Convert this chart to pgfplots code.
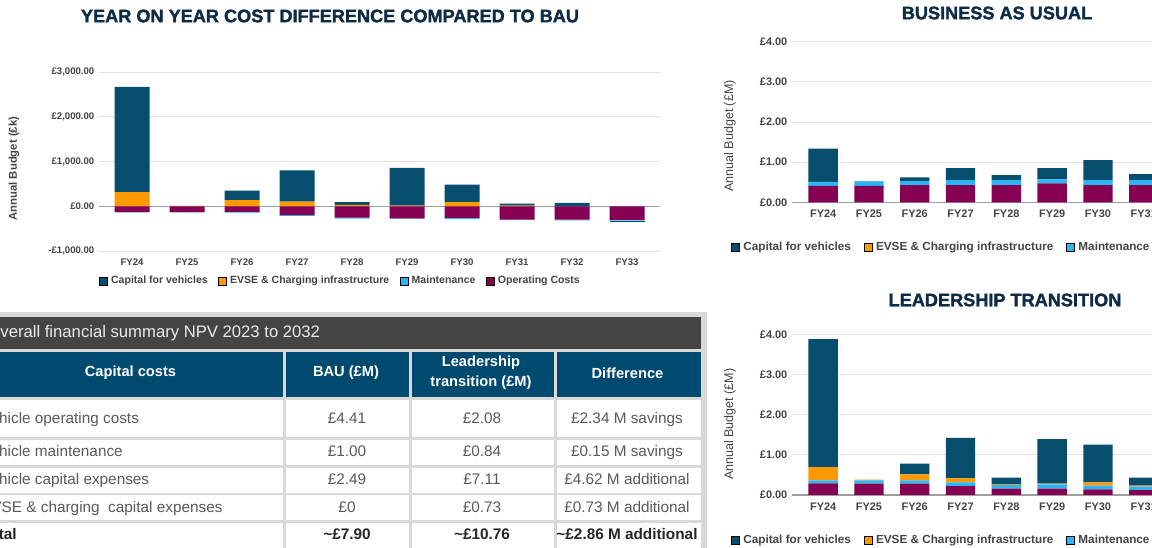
\documentclass[border=0pt]{standalone}
\usepackage{pgfplots}
\pgfplotsset{compat=1.18}
\usepackage{pgfplotstable}
\usepackage{fontspec}
\setmainfont{Liberation Sans}
\newfontfamily\titlefont{Liberation Sans}[BoldFeatures={FakeBold=1.6}]

\definecolor{capc}{HTML}{064D6E}
\definecolor{evsec}{HTML}{FF9900}
\definecolor{mntc}{HTML}{2BB5F2}
\definecolor{opc}{HTML}{850052}
\definecolor{titc}{HTML}{0D2B45}
\definecolor{tickc}{HTML}{444444}
\definecolor{gridc}{HTML}{E2E2E2}
\definecolor{zeroc}{HTML}{9E9E9E}
\definecolor{hdrc}{HTML}{004A70}
\definecolor{barc}{HTML}{444444}
\definecolor{sepc}{HTML}{D9D9D9}
\definecolor{bodyc}{HTML}{5A5A5A}

% Year-on-year difference (GBP k): positive parts
\pgfplotstableread{
x evse cap
0 313 2355
1 10 0
2 135 215
3 105 695
4 30 60
5 12 845
6 90 395
7 15 45
8 0 75
9 0 0
}\yoypos
% negative parts
\pgfplotstableread{
x op mnt capn
0 -130 -8 0
1 -130 -5 0
2 -125 -15 0
3 -200 -15 0
4 -255 -20 0
5 -270 -12 0
6 -260 -25 0
7 -300 -8 0
8 -300 -15 0
9 -305 -18 -40
}\yoyneg
% Business as usual (GBP M)
\pgfplotstableread{
x op mnt evse cap
0 0.41 0.10 0 0.83
1 0.41 0.11 0 0.01
2 0.43 0.10 0 0.09
3 0.43 0.12 0 0.30
4 0.43 0.12 0 0.13
5 0.47 0.10 0 0.28
6 0.43 0.12 0 0.50
7 0.43 0.12 0 0.15
}\bau
% Leadership transition (GBP M)
\pgfplotstableread{
x op mnt evse cap
0 0.29 0.07 0.33 3.19
1 0.28 0.08 0.02 0.00
2 0.28 0.08 0.15 0.27
3 0.22 0.09 0.10 1.01
4 0.16 0.09 0.02 0.16
5 0.16 0.10 0.02 1.11
6 0.14 0.09 0.08 0.94
7 0.12 0.09 0.02 0.20
}\lt

\pgfplotsset{
  mybars/.style={
    scale only axis,
    ybar stacked,
    axis line style={draw=none},
    major tick length=0pt,
    ymajorgrids,
    grid style={gridc, line width=0.75pt},
    extra y ticks={0},
    extra y tick labels={},
    extra y tick style={major grid style={zeroc, line width=1pt}},
    xticklabel style={yshift=-2.5pt},
    legend image code/.code={\fill[##1] (0pt,-3pt) rectangle (6pt,3pt); \path (7.5pt,0pt);},
    legend cell align=left,
    legend style={draw=none, fill=none, legend columns=4, inner sep=0pt,
      nodes={inner sep=1.2pt, text=tickc},
      /tikz/every even column/.append style={column sep=6.5pt}},
  },
  negbars/.style={
    scale only axis, hide axis, ybar stacked,
  }
}

\begin{document}
\begin{tikzpicture}
\useasboundingbox (0pt,0pt) rectangle (864pt,-410.25pt);
\clip (0pt,0pt) rectangle (864pt,-410.25pt);

% ---------------- Chart 1: year on year difference ----------------
\begin{axis}[mybars,
  at={(74.25pt,-54pt)}, anchor=north west,
  width=420.75pt, height=134.25pt,
  xmin=-0.6, xmax=9.6, ymin=-1000, ymax=3000,
  bar width=26.25pt,
  xtick={0,...,9},
  xticklabels={FY24,FY25,FY26,FY27,FY28,FY29,FY30,FY31,FY32,FY33},
  ytick={-1000,0,1000,2000,3000},
  yticklabels={{-£1,000.00},{£0.00},{£1,000.00},{£2,000.00},{£3,000.00}},
  tick label style={text=tickc, font=\bfseries\fontsize{7.2}{8}\selectfont},
  ylabel={Annual Budget (£k)},
  ylabel style={at={(axis description cs:-0.1515,0.46)}, anchor=center,
    font=\bfseries\fontsize{8.5}{9}\selectfont, text=tickc},
  legend style={at={(0.43,-0.168)}, anchor=center,
    font=\bfseries\fontsize{7.9}{9}\selectfont},
]
\addlegendimage{fill=capc}\addlegendentry{Capital for vehicles}
\addlegendimage{fill=evsec}\addlegendentry{EVSE \& Charging infrastructure}
\addlegendimage{fill=mntc}\addlegendentry{Maintenance}
\addlegendimage{fill=opc}\addlegendentry{Operating Costs}
\addplot[fill=evsec, draw=none, forget plot] table[x=x, y=evse]{\yoypos};
\addplot[fill=capc, draw=none, forget plot] table[x=x, y=cap]{\yoypos};
\end{axis}
\begin{axis}[negbars,
  at={(74.25pt,-54pt)}, anchor=north west,
  width=420.75pt, height=134.25pt,
  xmin=-0.6, xmax=9.6, ymin=-1000, ymax=3000,
  bar width=26.25pt,
]
\addplot[fill=opc, draw=none] table[x=x, y=op]{\yoyneg};
\addplot[fill=mntc, draw=none] table[x=x, y=mnt]{\yoyneg};
\addplot[fill=capc, draw=none] table[x=x, y=capn]{\yoyneg};
\end{axis}

% ---------------- Chart 2: business as usual ----------------
\begin{axis}[mybars,
  at={(594pt,-31.275pt)}, anchor=north west,
  width=355.875pt, height=120.45pt,
  xmin=-0.68, xmax=9.68, ymin=0, ymax=4,
  bar width=22pt,
  xtick={0,...,7},
  xticklabels={FY24,FY25,FY26,FY27,FY28,FY29,FY30,FY31},
  ytick={0,1,2,3,4},
  yticklabels={£0.00,£1.00,£2.00,£3.00,£4.00},
  tick label style={text=tickc, font=\bfseries\fontsize{8.2}{9}\selectfont},
  ylabel={Annual Budget (£M)},
  ylabel style={at={(axis description cs:-0.131,0.413)}, anchor=center,
    font=\fontsize{9.4}{10}\selectfont, text=tickc},
  legend style={at={(-0.1286,-0.278)}, anchor=west,
    font=\bfseries\fontsize{8.8}{10}\selectfont,
    /tikz/every even column/.append style={column sep=8.5pt}},
]
\addlegendimage{fill=capc}\addlegendentry{Capital for vehicles}
\addlegendimage{fill=evsec}\addlegendentry{EVSE \& Charging infrastructure}
\addlegendimage{fill=mntc}\addlegendentry{Maintenance}
\addplot[fill=opc, draw=none, forget plot] table[x=x, y=op]{\bau};
\addplot[fill=mntc, draw=none, forget plot] table[x=x, y=mnt]{\bau};
\addplot[fill=evsec, draw=none, forget plot] table[x=x, y=evse]{\bau};
\addplot[fill=capc, draw=none, forget plot] table[x=x, y=cap]{\bau};
\end{axis}

% ---------------- Chart 3: leadership transition ----------------
\begin{axis}[mybars,
  at={(594pt,-250.7pt)}, anchor=north west,
  width=355.875pt, height=120.5pt,
  xmin=-0.68, xmax=9.68, ymin=0, ymax=4,
  bar width=22pt,
  xtick={0,...,7},
  xticklabels={FY24,FY25,FY26,FY27,FY28,FY29,FY30,FY31},
  ytick={0,1,2,3,4},
  yticklabels={£0.00,£1.00,£2.00,£3.00,£4.00},
  tick label style={text=tickc, font=\bfseries\fontsize{8.2}{9}\selectfont},
  ylabel={Annual Budget (£M)},
  ylabel style={at={(axis description cs:-0.131,0.44)}, anchor=center,
    font=\fontsize{9.4}{10}\selectfont, text=tickc},
  legend style={at={(-0.1286,-0.28)}, anchor=west,
    font=\bfseries\fontsize{8.8}{10}\selectfont,
    /tikz/every even column/.append style={column sep=8.5pt}},
]
\addlegendimage{fill=capc}\addlegendentry{Capital for vehicles}
\addlegendimage{fill=evsec}\addlegendentry{EVSE \& Charging infrastructure}
\addlegendimage{fill=mntc}\addlegendentry{Maintenance}
\addplot[fill=opc, draw=none, forget plot] table[x=x, y=op]{\lt};
\addplot[fill=mntc, draw=none, forget plot] table[x=x, y=mnt]{\lt};
\addplot[fill=evsec, draw=none, forget plot] table[x=x, y=evse]{\lt};
\addplot[fill=capc, draw=none, forget plot] table[x=x, y=cap]{\lt};
\end{axis}

% ---------------- Titles and table (pixel coordinates) ----------------
\begin{scope}[x=0.75pt, y=-0.75pt]
\node[font=\titlefont\bfseries\fontsize{13.6}{15}\selectfont, text=titc] at (330,16) {YEAR ON YEAR COST DIFFERENCE COMPARED TO BAU};
\node[font=\titlefont\bfseries\fontsize{13.6}{15}\selectfont, text=titc] at (997,13) {BUSINESS AS USUAL};
\node[font=\titlefont\bfseries\fontsize{13.6}{15}\selectfont, text=titc] at (1005,300) {LEADERSHIP TRANSITION};

% table frame
\fill[sepc] (-30,312) rectangle (707,560);
\fill[barc] (-30,317) rectangle (701,349);
\node[anchor=west, inner sep=0pt, text=white!92!black, font=\fontsize{12.5}{14}\selectfont] at (-12.8,333) {Overall financial summary NPV 2023 to 2032};
\foreach \a/\b in {-30/283, 286/409, 412/554, 557/701} {
  \fill[hdrc] (\a,352) rectangle (\b,397);
  \foreach \t/\u in {400/437, 440/465, 468/493, 495/520, 523/560} {
    \fill[white] (\a,\t) rectangle (\b,\u);
  }
}
\begin{scope}[every node/.style={text=white, font=\bfseries\fontsize{11}{15}\selectfont, inner sep=0pt}]
\node at (130.5,373) {Capital costs};
\node at (346,373) {BAU (£M)};
\node[align=center] at (481,373) {Leadership\\transition (£M)};
\node at (627.5,373) {Difference};
\end{scope}
\begin{scope}[every node/.style={text=bodyc, font=\fontsize{11.5}{13}\selectfont, inner sep=0pt, text height=1.5ex, text depth=.3ex}]
\node[anchor=west] at (-19,419) {Vehicle operating costs};
\node at (347,419) {£4.41};
\node at (482,419) {£2.08};
\node at (627,419) {£2.34 M savings};
\node[anchor=west] at (-19,452.5) {Vehicle maintenance};
\node at (347,452.5) {£1.00};
\node at (482,452.5) {£0.84};
\node at (627,452.5) {£0.15 M savings};
\node[anchor=west] at (-19,480) {Vehicle capital expenses};
\node at (347,480) {£2.49};
\node at (482,480) {£7.11};
\node at (627,480) {£4.62 M additional};
\node[anchor=west] at (-19,508) {EVSE \& charging\ \ capital expenses};
\node at (347,508) {£0};
\node at (482,508) {£0.73};
\node at (627,508) {£0.73 M additional};
\end{scope}
\begin{scope}[every node/.style={text=black!85, font=\bfseries\fontsize{11.5}{13}\selectfont, inner sep=0pt, text height=1.5ex, text depth=.3ex}]
\node[anchor=west] at (-19,535) {Total};
\node at (347,535) {\textasciitilde£7.90};
\node at (482,535) {\textasciitilde£10.76};
\node at (627,535) {\textasciitilde£2.86 M additional};
\end{scope}
\end{scope}
\end{tikzpicture}
\end{document}
